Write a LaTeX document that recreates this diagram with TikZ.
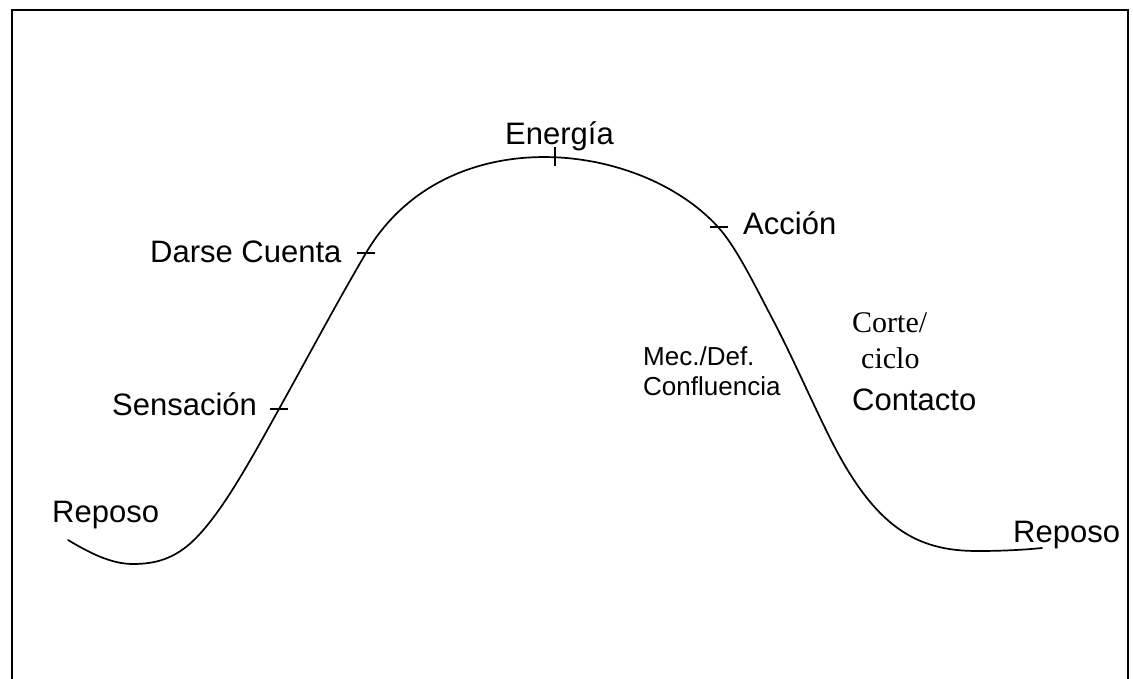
\documentclass[tikz,border=0pt]{standalone}
\usepackage{fontspec}
\setmainfont{Liberation Sans}
\newfontfamily\timesfont{Liberation Serif}
\begin{document}
\begin{tikzpicture}[x=1pt,y=-1pt,
  lbl/.style={anchor=base west,inner sep=0pt,font=\fontsize{31}{36}\selectfont},
  smalllbl/.style={anchor=base west,inner sep=0pt,font=\fontsize{26}{30}\selectfont},
  serlbl/.style={anchor=base west,inner sep=0pt,font=\timesfont\fontsize{30}{34}\selectfont},
  curve/.style={line width=1.7pt,line join=round,line cap=round},
  tick/.style={line width=1.5pt}]
\useasboundingbox (0,0) rectangle (1133,679);
% frame
\draw[line width=2pt] (12,679) -- (12,10) -- (1128,10) -- (1128,679);
% curve
\draw[curve] (68,540)
  .. controls (89.7,553) and (111.3,564) .. (133,564)
  .. controls (153.7,564) and (174.3,559.7) .. (195,539)
  .. controls (223,511) and (251,459.4) .. (279,409)
  .. controls (308,356.8) and (337,302.3) .. (366,253)
  .. controls (445,118.7) and (639,140.1) .. (718,227)
  .. controls (736.3,247.1) and (754.7,285.2) .. (773,320)
  .. controls (792,356.1) and (811,400) .. (830,438)
  .. controls (875,528) and (917,551) .. (977,551)
  .. controls (998.7,551) and (1020.3,550.2) .. (1042,548);
% tick coordinates
\coordinate (tS) at (279,409);
\coordinate (tD) at (366,253);
\coordinate (tE) at (555,157);
\coordinate (tA) at (719,227);
\draw[tick] ([xshift=-9pt]tS) -- ([xshift=9pt]tS);
\draw[tick] ([xshift=-9pt]tD) -- ([xshift=9pt]tD);
\draw[tick] ([yshift=-9pt]tE) -- ([yshift=10pt]tE);
\draw[tick] ([xshift=-9pt]tA) -- ([xshift=9pt]tA);
% labels
\node[lbl] (rep1) at (52,522) {Reposo};
\node[lbl] (sens) at (112,415) {Sensación};
\node[lbl] (darse) at (150,263) {Darse Cuenta};
\node[lbl] (ener) at (505,145) {Energía};
\node[lbl] (acc) at (743,235) {Acción};
\node[serlbl] (corte) at (852,332) {Corte/};
\node[serlbl] (ciclo) at (861,368) {ciclo};
\node[lbl] (cont) at (852,410) {Contacto};
\node[smalllbl] (mec) at (643,365) {Mec./Def.};
\node[smalllbl] (conf) at (643,395) {Confluencia};
\node[lbl] (rep2) at (1013,542) {Reposo};
\end{tikzpicture}
\end{document}
